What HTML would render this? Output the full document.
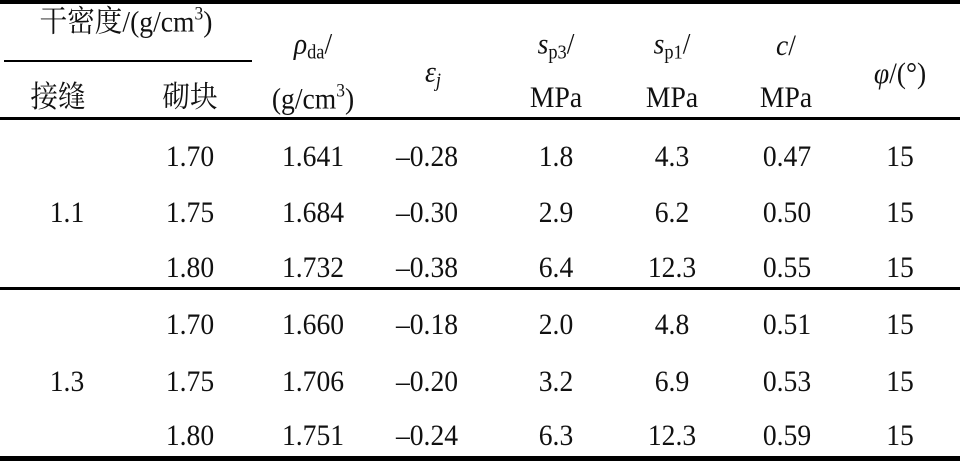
<!DOCTYPE html>
<html><head><meta charset="utf-8"><style>
body{margin:0;width:960px;height:464px;background:#fff;position:relative;overflow:hidden;font-family:"Liberation Serif","Noto Serif CJK SC",serif;font-size:30px;color:#111}
.t{position:absolute;transform:translate(-50%,-50%) scaleX(0.92);white-space:nowrap;line-height:1}
.l{position:absolute;left:0;width:960px;background:#000}
sub{font-size:20px;vertical-align:-5px}
sup{font-size:19px;vertical-align:12px}
i{font-style:italic}
</style></head><body>
<div class="l" style="top:0;height:4px"></div>
<div class="l" style="top:60px;height:2px;left:4px;width:248px"></div>
<div class="l" style="top:117px;height:3px"></div>
<div class="l" style="top:287px;height:3px"></div>
<div class="l" style="top:456px;height:5px"></div>

<div class="t" style="left:126px;top:21px">干密度/(g/cm<sup>3</sup>)</div>
<div class="t" style="left:58px;top:98px">接缝</div>
<div class="t" style="left:190px;top:98px">砌块</div>
<div class="t" style="left:313px;top:46px"><i>ρ</i><sub>da</sub>/</div>
<div class="t" style="left:313px;top:98px">(g/cm<sup>3</sup>)</div>
<div class="t" style="left:433px;top:74px"><i>ε<sub>j</sub></i></div>
<div class="t" style="left:556px;top:46px"><i>s</i><sub>p3</sub>/</div>
<div class="t" style="left:556px;top:98px">MPa</div>
<div class="t" style="left:672px;top:46px"><i>s</i><sub>p1</sub>/</div>
<div class="t" style="left:672px;top:98px">MPa</div>
<div class="t" style="left:786px;top:46px"><i>c</i>/</div>
<div class="t" style="left:786px;top:98px">MPa</div>
<div class="t" style="left:900px;top:74px"><i>φ</i>/(°)</div>

<div class="t" style="left:67px;top:213px">1.1</div>
<div class="t" style="left:67px;top:382px">1.3</div>

<div class="t" style="left:190px;top:157px">1.70</div><div class="t" style="left:313px;top:157px">1.641</div><div class="t" style="left:427px;top:157px">–0.28</div><div class="t" style="left:556px;top:157px">1.8</div><div class="t" style="left:672px;top:157px">4.3</div><div class="t" style="left:787px;top:157px">0.47</div><div class="t" style="left:900px;top:157px">15</div>
<div class="t" style="left:190px;top:213px">1.75</div><div class="t" style="left:313px;top:213px">1.684</div><div class="t" style="left:427px;top:213px">–0.30</div><div class="t" style="left:556px;top:213px">2.9</div><div class="t" style="left:672px;top:213px">6.2</div><div class="t" style="left:787px;top:213px">0.50</div><div class="t" style="left:900px;top:213px">15</div>
<div class="t" style="left:190px;top:268px">1.80</div><div class="t" style="left:313px;top:268px">1.732</div><div class="t" style="left:427px;top:268px">–0.38</div><div class="t" style="left:556px;top:268px">6.4</div><div class="t" style="left:672px;top:268px">12.3</div><div class="t" style="left:787px;top:268px">0.55</div><div class="t" style="left:900px;top:268px">15</div>
<div class="t" style="left:190px;top:325px">1.70</div><div class="t" style="left:313px;top:325px">1.660</div><div class="t" style="left:427px;top:325px">–0.18</div><div class="t" style="left:556px;top:325px">2.0</div><div class="t" style="left:672px;top:325px">4.8</div><div class="t" style="left:787px;top:325px">0.51</div><div class="t" style="left:900px;top:325px">15</div>
<div class="t" style="left:190px;top:382px">1.75</div><div class="t" style="left:313px;top:382px">1.706</div><div class="t" style="left:427px;top:382px">–0.20</div><div class="t" style="left:556px;top:382px">3.2</div><div class="t" style="left:672px;top:382px">6.9</div><div class="t" style="left:787px;top:382px">0.53</div><div class="t" style="left:900px;top:382px">15</div>
<div class="t" style="left:190px;top:436px">1.80</div><div class="t" style="left:313px;top:436px">1.751</div><div class="t" style="left:427px;top:436px">–0.24</div><div class="t" style="left:556px;top:436px">6.3</div><div class="t" style="left:672px;top:436px">12.3</div><div class="t" style="left:787px;top:436px">0.59</div><div class="t" style="left:900px;top:436px">15</div>
</body></html>
